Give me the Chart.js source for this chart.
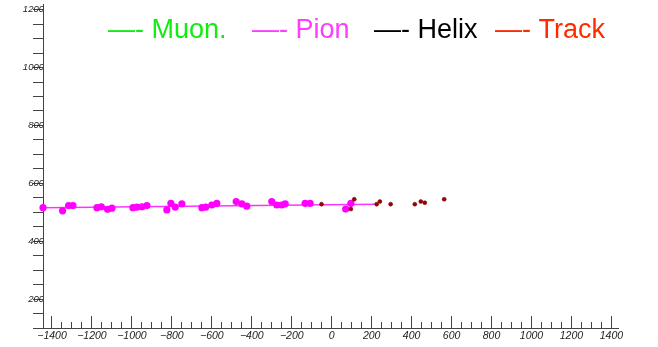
<!DOCTYPE html>
<html>
<head>
<meta charset="utf-8">
<script src="https://cdn.jsdelivr.net/npm/chart.js@4/dist/chart.umd.min.js"></script>
<style>
  html, body { margin: 0; padding: 0; background: #fff; }
  #wrap { width: 658px; height: 347px; position: relative; }
</style>
</head>
<body>
<div id="wrap"><canvas id="evt"></canvas></div>
<script>
// pion hits (x, y)
const pionX = [-1445, -1347, -1317, -1295, -1175, -1153, -1122, -1100, -995, -975, -950, -925,
  -825, -805, -783, -750, -650, -630, -600, -575, -478, -450, -425, -300, -275, -250, -233,
  -133, -108, 70, 96];
const pionY = [516, 505, 523, 523, 516, 519, 510, 514, 516, 518, 519, 523,
  508, 531, 518, 529, 516, 518, 525, 531, 537, 529, 521, 537, 525, 525, 529,
  531, 531, 511, 531];

// fitted pion line
const pionFitX = [-1445, 222];
const pionFitY = [516, 528];

// track hits
const trackX = [-51, 96, 113, 225, 241, 295, 416, 446, 466, 563];
const trackY = [528, 511, 545, 528, 537, 528, 528, 537, 533, 545];

// axis ticks
const xMajorTicks = [-1400, -1200, -1000, -800, -600, -400, -200, 0, 200, 400, 600, 800, 1000, 1200, 1400];
const yMajorTicks = [200, 400, 600, 800, 1000, 1200];

const legendNames = ['Muon.', 'Pion', 'Helix', 'Track'];
const legendColors = ['#10ee10', '#ff3cff', '#000000', '#ff2a00'];

const toPoints = (xs, ys) => xs.map((x, i) => ({ x: x, y: ys[i] }));

const xMinorTicks = [];
for (let v = -1400; v <= 1400; v += 50) {
  if (!xMajorTicks.includes(v)) xMinorTicks.push(v);
}
const yAllTicks = [];
for (let v = 100; v <= 1200; v += 50) yAllTicks.push(v);

const tickFont = { family: '"Liberation Sans", Arial, sans-serif', style: 'italic', size: 10.5 };
const axisColor = '#444';

// legend drawn as text entries along the top
const legendText = {
  id: 'legendText',
  afterDraw(chart) {
    const ctx = chart.ctx;
    const lefts = [108, 252, 374, 495];
    ctx.save();
    ctx.font = '27px "Liberation Sans", Arial, sans-serif';
    ctx.textBaseline = 'alphabetic';
    legendNames.forEach((name, i) => {
      ctx.fillStyle = legendColors[i];
      ctx.fillText('\u2014- ' + name, lefts[i], 38);
    });
    ctx.restore();
  }
};

new Chart(document.getElementById('evt'), {
  type: 'scatter',
  data: {
    datasets: [
      {
        label: 'Track',
        data: toPoints(trackX, trackY),
        backgroundColor: '#a00000',
        borderColor: '#6a0000',
        borderWidth: 0.5,
        pointRadius: 2,
        clip: false
      },
      {
        label: 'Pion',
        data: toPoints(pionX, pionY),
        backgroundColor: '#ff00ff',
        borderWidth: 0,
        pointRadius: 3.6,
        clip: false
      },
      {
        label: 'Pion fit',
        data: toPoints(pionFitX, pionFitY),
        showLine: true,
        borderColor: '#ff33ff',
        borderWidth: 1.5,
        pointRadius: 0
      }
    ]
  },
  options: {
    responsive: true,
    maintainAspectRatio: false,
    animation: false,
    layout: { padding: { top: 4, right: 40, left: 0, bottom: 0 } },
    plugins: { legend: { display: false }, tooltip: { enabled: false } },
    scales: {
      x: {
        type: 'linear',
        position: 'bottom',
        weight: 1,
        min: -1445,
        max: 1433,
        afterBuildTicks: s => { s.ticks = xMajorTicks.map(v => ({ value: v })); },
        afterFit: s => { s.height = 19; },
        grid: { drawOnChartArea: false, tickLength: -12, color: axisColor },
        border: { color: axisColor, width: 1 },
        ticks: {
          padding: 14,
          color: '#222',
          font: tickFont,
          autoSkip: false,
          maxRotation: 0,
          callback: v => (v < 0 ? '\u2212' + Math.abs(v) : String(v))
        }
      },
      xMinor: {
        type: 'linear',
        position: 'bottom',
        weight: 0,
        min: -1445,
        max: 1433,
        afterBuildTicks: s => { s.ticks = xMinorTicks.map(v => ({ value: v })); },
        afterFit: s => { s.height = 0; },
        grid: { drawOnChartArea: false, tickLength: -6, color: axisColor },
        border: { display: false },
        ticks: { autoSkip: false, callback: () => '' }
      },
      y: {
        type: 'linear',
        position: 'left',
        min: 100,
        max: 1218,
        afterBuildTicks: s => { s.ticks = yAllTicks.map(v => ({ value: v })); },
        afterFit: s => { s.width = 43; },
        grid: { drawOnChartArea: false, tickLength: 10, color: axisColor },
        border: { color: axisColor, width: 1 },
        ticks: {
          padding: -11,
          color: '#222',
          font: { family: '"Liberation Sans", Arial, sans-serif', style: 'italic', size: 9.5 },
          autoSkip: false,
          callback: v => (yMajorTicks.includes(v) ? String(v) : '')
        }
      }
    }
  },
  plugins: [legendText]
});
</script>
</body>
</html>
